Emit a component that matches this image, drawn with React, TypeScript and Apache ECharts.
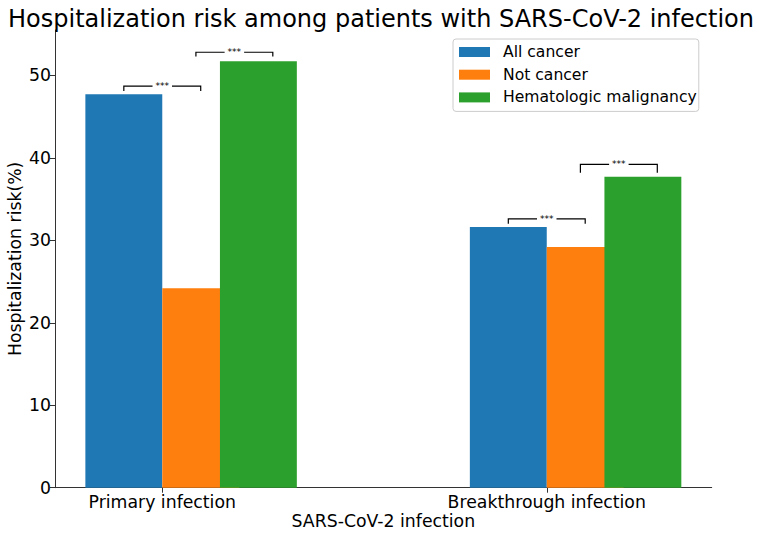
import React, { useEffect, useRef } from "react";
import * as echarts from "echarts";

const categories = ["Primary infection", "Breakthrough infection"];
const seriesNames = ["All cancer", "Not cancer", "Hematologic malignancy"];
const allCancer = [47.7, 31.6];
const notCancer = [24.2, 29.2];
const hemMalignancy = [51.7, 37.7];
const yTicks = [0, 10, 20, 30, 40, 50];
const xTicks = [0, 1];
const sigLabels = ["***", "***", "***", "***"];
const bracketTops = [48.7, 52.8, 32.6, 39.2];
const bracketLegs = [0.6, 0.5, 0.6, 1.0];

const COLORS = ["#1f77b4", "#ff7f0e", "#2ca02c"];
const FONT = "DejaVu Sans";
// bar extents relative to category position (left, right)
const BAR_OFFSETS: [number, number][] = [
  [-0.2, 0],
  [0, 0.2],
  [0.15, 0.35],
];
// bracket layout: [category index, left offset, right offset]
const BRACKET_LAYOUT: [number, number, number][] = [
  [0, -0.1, 0.1],
  [0, 0.0875, 0.2875],
  [1, -0.1, 0.1],
  [1, 0.0875, 0.2875],
];

function barSeries(name: string, values: number[], idx: number) {
  const [l, r] = BAR_OFFSETS[idx];
  return {
    type: "custom",
    name,
    itemStyle: { color: COLORS[idx] },
    data: values.map((v, i) => [i, v]),
    renderItem: (params: any, api: any) => {
      const c = api.value(0);
      const v = api.value(1);
      const p0 = api.coord([c + l, v]);
      const p1 = api.coord([c + r, 0]);
      return {
        type: "rect",
        shape: { x: p0[0], y: p0[1], width: p1[0] - p0[0], height: p1[1] - p0[1] },
        style: { fill: COLORS[idx] },
      };
    },
  };
}

export default function App() {
  const ref = useRef<HTMLDivElement>(null);
  useEffect(() => {
    document.body.style.margin = "0";
    if (!ref.current) return;
    const chart = echarts.init(ref.current, undefined, { renderer: "svg" });
    const bracketSeries = {
      type: "custom",
      name: "brackets",
      silent: true,
      z: 5,
      data: bracketTops.map((t, i) => [i, t]),
      renderItem: (params: any, api: any) => {
        const i = api.value(0);
        const top = api.value(1);
        const [cat, lo, ro] = BRACKET_LAYOUT[i];
        const leg = bracketLegs[i];
        const a = api.coord([cat + lo, top - leg]);
        const b = api.coord([cat + lo, top]);
        const c = api.coord([cat + ro, top]);
        const d = api.coord([cat + ro, top - leg]);
        return {
          type: "group",
          children: [
            {
              type: "polyline",
              shape: { points: [a, b, c, d] },
              style: { stroke: "#000", lineWidth: 1.2, fill: null },
            },
            {
              type: "text",
              x: (b[0] + c[0]) / 2,
              y: b[1],
              style: {
                text: sigLabels[i],
                fontSize: 9,
                fontFamily: FONT,
                fill: "#000",
                align: "center",
                verticalAlign: "middle",
                backgroundColor: "#fff",
                padding: [1, 3],
              },
            },
          ],
        };
      },
    };
    chart.setOption({
      animation: false,
      textStyle: { fontFamily: FONT },
      title: {
        text: "Hospitalization risk among patients with SARS-CoV-2 infection",
        left: "center",
        top: 2,
        textStyle: { fontSize: 24, fontWeight: "normal", color: "#000", fontFamily: FONT },
      },
      legend: {
        orient: "vertical",
        left: 453,
        top: 39,
        data: seriesNames,
        icon: "rect",
        itemWidth: 31,
        itemHeight: 10,
        itemGap: 4.7,
        padding: [4, 2, 5, 6],
        borderColor: "#cccccc",
        borderWidth: 1,
        borderRadius: 3,
        backgroundColor: "rgba(255,255,255,0.8)",
        textStyle: { fontSize: 15.6, color: "#000", fontFamily: FONT, lineHeight: 18, padding: [0, 0, 0, 8] },
        selectedMode: false,
      },
      grid: { left: 55, right: 50.3, top: 30, bottom: 47.3, containLabel: false, outerBoundsMode: "none" },
      xAxis: {
        type: "value",
        min: -0.279,
        max: 1.429,
        splitLine: { show: false },
        axisLine: { show: true, onZero: false, lineStyle: { color: "#333", width: 1 } },
        axisTick: { show: true, length: 5, customValues: xTicks, lineStyle: { color: "#333" } },
        axisLabel: {
          customValues: xTicks,
          formatter: (v: number) => categories[Math.round(v)] ?? "",
          fontSize: 17.3,
          color: "#000",
          margin: 6,
          fontFamily: FONT,
        },
        name: "SARS-CoV-2 infection",
        nameLocation: "middle",
        nameGap: 25,
        nameMoveOverlap: false,
        nameTextStyle: { fontSize: 17.3, color: "#000", fontFamily: FONT },
      },
      yAxis: {
        type: "value",
        min: 0,
        max: 55.5,
        interval: 10,
        splitLine: { show: false },
        axisLine: { show: true, onZero: false, lineStyle: { color: "#333", width: 1 } },
        axisTick: { show: true, length: 5, customValues: yTicks, lineStyle: { color: "#333" } },
        axisLabel: {
          customValues: yTicks,
          fontSize: 17.3,
          color: "#000",
          margin: 4,
          fontFamily: FONT,
        },
        name: "Hospitalization risk(%)",
        nameLocation: "middle",
        nameGap: 32,
        nameMoveOverlap: false,
        nameTextStyle: { fontSize: 17.3, color: "#000", fontFamily: FONT },
      },
      series: [
        barSeries(seriesNames[0], allCancer, 0),
        barSeries(seriesNames[1], notCancer, 1),
        barSeries(seriesNames[2], hemMalignancy, 2),
        bracketSeries,
      ],
    });
    return () => chart.dispose();
  }, []);
  return <div ref={ref} style={{ width: 762, height: 535 }} />;
}
